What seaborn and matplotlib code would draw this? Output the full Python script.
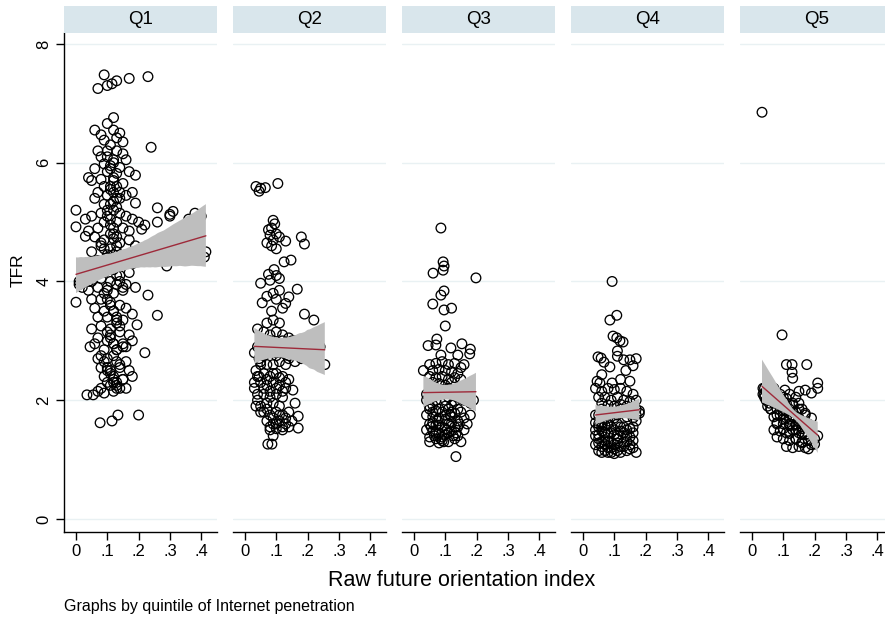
import matplotlib
matplotlib.use("Agg")
import matplotlib.pyplot as plt
import seaborn as sns
import pandas as pd

# ---------------- data ----------------
panels = ["Q1", "Q2", "Q3", "Q4", "Q5"]

q1_x = [0.07, 0.09, 0.10, 0.115, 0.13, 0.17, 0.23,
        0.12, 0.10, 0.06, 0.08, 0.12, 0.14, 0.13, 0.15, 0.24, 0.09, 0.11,
        0.07, 0.10, 0.13, 0.15, 0.08, 0.12, 0.16, 0.09, 0.11, 0.14, 0.06, 0.10, 0.13, 0.17, 0.19,
        0.04, 0.05, 0.08, 0.12, 0.15, 0.09, 0.11, 0.14, 0.07, 0.10, 0.13, 0.16, 0.18, 0.06, 0.12, 0.19,
        0.00, 0.03, 0.05, 0.08, 0.10, 0.12, 0.14, 0.16, 0.18, 0.20, 0.22, 0.26, 0.30, 0.31, 0.09, 0.11,
        0.13, 0.15, 0.00, 0.04, 0.07, 0.17, 0.21,
        0.03, 0.06, 0.09, 0.12, 0.14, 0.17, 0.19, 0.08, 0.11, 0.05, 0.13, 0.16, 0.20, 0.23, 0.10, 0.07,
        0.15, 0.18, 0.29, 0.415, 0.41, 0.12,
        0.06, 0.09, 0.12, 0.14, 0.17, 0.05, 0.08, 0.11, 0.13, 0.16, 0.19, 0.07, 0.10, 0.23, 0.15, 0.04,
        0.00, 0.05, 0.08, 0.11, 0.14, 0.06, 0.09, 0.12, 0.16, 0.10, 0.13, 0.07, 0.15, 0.26, 0.18, 0.195,
        0.05, 0.08, 0.11, 0.14, 0.17, 0.045, 0.07, 0.10, 0.12, 0.15, 0.09, 0.13, 0.16, 0.18, 0.22, 0.06,
        0.07, 0.10, 0.13, 0.16, 0.08, 0.11, 0.14, 0.17, 0.09, 0.12, 0.15, 0.18, 0.10, 0.13, 0.11, 0.14,
        0.08, 0.16, 0.035, 0.055, 0.07, 0.12, 0.09, 0.15,
        0.077, 0.115, 0.134, 0.20,
        0.12, 0.11, 0.12, 0.13, 0.11, 0.12, 0.13, 0.11, 0.12, 0.10, 0.12, 0.11, 0.13, 0.12,
        0.10, 0.11, 0.12, 0.13, 0.14, 0.09, 0.10, 0.11, 0.12, 0.13, 0.08, 0.09, 0.10, 0.11, 0.12,
        0.13, 0.14, 0.15, 0.09, 0.10, 0.11, 0.12, 0.13, 0.14, 0.10, 0.11, 0.12, 0.13, 0.08, 0.09,
        0.10, 0.11, 0.12, 0.13, 0.14, 0.15, 0.10, 0.11, 0.12, 0.13,
        0.26, 0.30, 0.34, 0.38, 0.28, 0.36, 0.40,
        0.01, 0.02, 0.03, 0.04, 0.02, 0.01]
q1_y = [7.25, 7.48, 7.30, 7.33, 7.38, 7.42, 7.45,
        6.76, 6.66, 6.55, 6.47, 6.55, 6.50, 6.42, 6.35, 6.26, 6.38, 6.30,
        6.20, 6.20, 6.20, 6.15, 6.10, 6.05, 6.05, 5.98, 5.95, 5.92, 5.90, 5.85, 5.82, 5.85, 5.79,
        5.75, 5.70, 5.72, 5.70, 5.65, 5.60, 5.55, 5.50, 5.50, 5.45, 5.40, 5.45, 5.50, 5.40, 5.35, 5.32,
        5.20, 5.05, 5.10, 5.15, 5.10, 5.20, 5.15, 5.10, 5.05, 5.00, 4.95, 5.24, 5.13, 5.18, 5.00, 4.95,
        5.00, 4.90, 4.92, 4.85, 4.90, 4.85, 4.88,
        4.76, 4.75, 4.70, 4.72, 4.65, 4.70, 4.60, 4.60, 4.55, 4.50, 4.50, 4.45, 4.50, 4.45, 4.40, 4.35,
        4.35, 4.30, 4.26, 4.50, 4.41, 4.30,
        4.20, 4.15, 4.20, 4.10, 4.15, 4.00, 4.05, 4.00, 3.95, 3.95, 3.90, 3.90, 3.85, 3.77, 3.85, 3.85,
        3.65, 3.70, 3.70, 3.65, 3.60, 3.55, 3.50, 3.50, 3.55, 3.40, 3.40, 3.40, 3.35, 3.43, 3.45, 3.27,
        3.20, 3.25, 3.20, 3.15, 3.10, 2.90, 3.05, 3.00, 2.95, 2.95, 2.85, 2.85, 2.90, 3.00, 2.80, 2.95,
        2.70, 2.70, 2.65, 2.65, 2.55, 2.50, 2.55, 2.50, 2.40, 2.40, 2.35, 2.40, 2.30, 2.30, 2.25, 2.20,
        2.20, 2.20, 2.09, 2.09, 2.15, 2.15, 2.12, 2.35,
        1.62, 1.65, 1.75, 1.75,
        6.00, 5.30, 4.80, 4.60, 4.20, 3.80, 3.30, 3.10, 2.75, 2.50, 2.30, 5.60, 5.25, 4.45,
        6.10, 5.90, 5.75, 5.60, 5.40, 5.30, 5.20, 5.05, 4.90, 4.75, 4.65, 4.55, 4.45, 4.35, 4.25,
        4.10, 4.00, 3.90, 3.80, 3.70, 3.60, 3.50, 3.35, 3.25, 3.15, 3.05, 2.95, 2.85, 2.75, 2.65,
        2.55, 2.45, 2.35, 2.25, 2.60, 2.90, 3.90, 4.80, 5.50, 2.20,
        5.00, 5.10, 4.90, 5.15, 4.70, 5.05, 5.10,
        4.00, 3.90, 4.10, 4.00, 4.20, 3.95]

q2_x = [0.035, 0.045, 0.05, 0.065, 0.105,
        0.09, 0.095, 0.085, 0.075, 0.08, 0.10, 0.09, 0.11, 0.07, 0.13, 0.18, 0.19, 0.085, 0.10,
        0.125, 0.147, 0.093, 0.08, 0.10, 0.075, 0.11,
        0.05, 0.167, 0.14, 0.13, 0.055, 0.09, 0.11, 0.10, 0.12, 0.19, 0.07, 0.085, 0.22,
        0.07, 0.09, 0.11, 0.04, 0.06, 0.08, 0.10, 0.12, 0.14, 0.05, 0.07, 0.09, 0.11, 0.13, 0.15,
        0.06, 0.08, 0.10, 0.12, 0.14, 0.035, 0.05, 0.07, 0.09, 0.11, 0.13, 0.255, 0.16, 0.04,
        0.06, 0.08, 0.10, 0.12, 0.14, 0.05, 0.07, 0.09, 0.11, 0.13, 0.153, 0.06, 0.08, 0.10, 0.12,
        0.16, 0.04, 0.07, 0.09, 0.11,
        0.06, 0.08, 0.10, 0.12, 0.14, 0.17, 0.07, 0.09, 0.11, 0.13, 0.08, 0.10, 0.12, 0.17, 0.09,
        0.073, 0.086,
        0.05, 0.07, 0.09, 0.11, 0.13, 0.15, 0.17, 0.19, 0.21, 0.23, 0.20, 0.22, 0.06, 0.08, 0.10,
        0.12, 0.14, 0.16, 0.18, 0.24,
        0.06, 0.08, 0.10, 0.12, 0.07, 0.09, 0.11, 0.13, 0.05, 0.07, 0.09, 0.11, 0.13, 0.15, 0.10,
        0.08, 0.12, 0.14,
        0.03, 0.04, 0.035, 0.045, 0.03, 0.04, 0.05, 0.05, 0.03, 0.045]
q2_y = [5.60, 5.52, 5.57, 5.58, 5.65,
        5.03, 4.97, 4.90, 4.87, 4.78, 4.80, 4.70, 4.75, 4.65, 4.68, 4.75, 4.63, 4.60, 4.55,
        4.33, 4.36, 4.20, 4.02, 4.10, 4.12, 4.05,
        3.97, 3.87, 3.74, 3.63, 3.64, 3.80, 3.85, 3.70, 3.55, 3.45, 3.75, 3.50, 3.35,
        3.30, 3.35, 3.30, 3.20, 3.15, 3.10, 3.15, 3.10, 3.05, 3.00, 2.95, 2.95, 2.90, 2.95, 3.00,
        2.85, 2.80, 2.75, 2.80, 2.70, 2.50, 2.65, 2.60, 2.60, 2.65, 2.60, 2.60, 2.65, 2.40,
        2.45, 2.40, 2.45, 2.40, 2.35, 2.30, 2.25, 2.30, 2.25, 2.20, 2.17, 2.10, 2.05, 2.10, 2.05,
        1.95, 2.00, 1.95, 1.95, 1.90,
        1.80, 1.75, 1.80, 1.75, 1.80, 1.73, 1.65, 1.60, 1.65, 1.60, 1.50, 1.52, 1.50, 1.53, 1.40,
        1.26, 1.26,
        2.90, 2.95, 2.85, 2.90, 2.85, 2.90, 2.85, 2.90, 2.80, 2.85, 3.05, 2.70, 2.75, 3.00, 2.80,
        3.00, 2.75, 3.00, 2.70, 2.90,
        2.20, 2.15, 2.20, 2.15, 2.35, 2.45, 2.38, 2.30, 1.90, 1.85, 1.70, 1.75, 1.70, 1.65, 1.60,
        1.55, 1.55, 1.55,
        2.30, 2.10, 1.90, 2.70, 2.80, 2.90, 2.60, 1.80, 2.20, 2.40]

q3_x = [0.086, 0.093, 0.096, 0.093, 0.061, 0.198, 0.096, 0.086, 0.06, 0.096, 0.12, 0.10,
        0.073, 0.07, 0.045, 0.118, 0.153, 0.14, 0.18, 0.178, 0.086,
        0.05, 0.07, 0.09, 0.11, 0.13, 0.15, 0.06, 0.08, 0.10, 0.12, 0.14, 0.05, 0.07, 0.09, 0.11,
        0.13, 0.06, 0.08, 0.10, 0.12, 0.15, 0.07, 0.09, 0.11, 0.03, 0.16,
        0.04, 0.14, 0.05,
        0.05, 0.07, 0.09, 0.11, 0.13, 0.15, 0.06, 0.08, 0.10, 0.12, 0.14, 0.05, 0.07, 0.09, 0.11,
        0.13, 0.06, 0.08, 0.10, 0.12, 0.14, 0.07, 0.09, 0.11, 0.05, 0.134,
        0.04, 0.06, 0.08, 0.10, 0.12, 0.14, 0.16, 0.18, 0.19, 0.17, 0.05, 0.07, 0.09, 0.11, 0.13,
        0.15,
        0.04, 0.06, 0.08, 0.10, 0.12, 0.14, 0.16, 0.04, 0.06, 0.08, 0.10, 0.12, 0.14, 0.16, 0.05,
        0.07, 0.09, 0.11, 0.13, 0.15, 0.08, 0.10, 0.12, 0.06, 0.17, 0.18,
        0.065, 0.085, 0.105, 0.125, 0.145, 0.075, 0.095, 0.115, 0.135, 0.055]
q3_y = [4.90, 4.33, 4.26, 4.19, 4.14, 4.06, 3.84, 3.77, 3.62, 3.52, 3.55, 3.25,
        3.03, 2.93, 2.92, 2.88, 2.95, 2.76, 2.86, 2.78, 2.76,
        2.60, 2.62, 2.65, 2.60, 2.62, 2.55, 2.50, 2.52, 2.50, 2.48, 2.45, 2.40, 2.38, 2.40, 2.35,
        2.38, 2.30, 2.28, 2.25, 2.30, 2.35, 2.20, 2.18, 2.20, 2.50, 2.60,
        2.00, 2.10, 1.90,
        1.85, 1.82, 1.80, 1.85, 1.78, 1.80, 1.72, 1.70, 1.68, 1.72, 1.65, 1.60, 1.58, 1.55, 1.60,
        1.55, 1.48, 1.45, 1.42, 1.48, 1.40, 1.35, 1.32, 1.30, 1.38, 1.05,
        2.10, 2.05, 2.10, 2.00, 2.10, 2.05, 2.00, 1.95, 2.00, 2.10, 2.15, 2.00, 2.15, 2.05, 1.98,
        2.12,
        1.75, 1.80, 1.85, 1.75, 1.80, 1.85, 1.70, 1.50, 1.62, 1.58, 1.52, 1.62, 1.55, 1.50, 1.30,
        1.45, 1.38, 1.45, 1.35, 1.30, 1.28, 1.90, 1.92, 1.92, 1.60, 1.75,
        1.40, 1.35, 1.50, 1.40, 1.60, 1.65, 1.30, 1.75, 1.45, 1.55]

q4_x = [0.093, 0.108, 0.086, 0.096, 0.108, 0.118, 0.128, 0.11, 0.11, 0.048, 0.058, 0.067,
        0.086, 0.13, 0.15, 0.17, 0.137, 0.16, 0.06, 0.045, 0.054, 0.093, 0.12, 0.15,
        0.04, 0.06, 0.08, 0.10, 0.12, 0.14, 0.16, 0.05, 0.07, 0.09, 0.11, 0.13, 0.15, 0.06, 0.08,
        0.10, 0.12, 0.14, 0.17,
        0.04, 0.17,
        0.05, 0.07, 0.09, 0.11, 0.13, 0.15, 0.06, 0.08, 0.10, 0.12, 0.14, 0.16, 0.05, 0.07, 0.09,
        0.11, 0.13, 0.15, 0.06, 0.08, 0.10, 0.12, 0.14, 0.17, 0.16, 0.04,
        0.05, 0.07, 0.09, 0.11, 0.13, 0.15, 0.17, 0.06, 0.08, 0.10, 0.12, 0.14, 0.16, 0.18,
        0.04, 0.06, 0.08, 0.10, 0.12, 0.14, 0.16, 0.05, 0.07, 0.09, 0.11, 0.13, 0.15, 0.05, 0.07,
        0.09, 0.11, 0.13, 0.15, 0.08, 0.10, 0.12, 0.14, 0.16, 0.06,
        0.04, 0.05, 0.06, 0.07, 0.05, 0.06, 0.04, 0.07, 0.08, 0.09, 0.10, 0.11, 0.17, 0.18, 0.16]
q4_y = [4.00, 3.43, 3.35, 3.08, 3.05, 3.00, 2.98, 2.83, 2.74, 2.73, 2.71, 2.64,
        2.56, 2.68, 2.68, 2.70, 2.50, 2.58, 2.43, 2.32, 2.29, 2.29, 2.35, 2.32,
        2.20, 2.15, 2.20, 2.18, 2.20, 2.15, 2.10, 2.05, 2.05, 2.00, 2.05, 2.00, 1.98, 1.95, 1.92,
        1.90, 1.93, 1.90, 2.00,
        1.75, 1.65,
        1.60, 1.58, 1.55, 1.60, 1.55, 1.52, 1.48, 1.45, 1.42, 1.48, 1.40, 1.45, 1.35, 1.32, 1.30,
        1.35, 1.30, 1.25, 1.22, 1.20, 1.18, 1.22, 1.15, 1.12, 1.20, 1.25,
        1.75, 1.70, 1.80, 1.75, 1.80, 1.78, 1.85, 1.85, 1.65, 1.70, 1.85, 1.72, 1.80, 1.82,
        1.50, 1.55, 1.60, 1.50, 1.55, 1.50, 1.55, 1.42, 1.38, 1.45, 1.40, 1.45, 1.38, 1.28, 1.25,
        1.20, 1.28, 1.22, 1.18, 1.12, 1.10, 1.12, 1.30, 1.32, 1.12,
        1.40, 1.15, 1.30, 1.45, 1.55, 1.62, 1.62, 1.15, 1.30, 1.12, 1.25, 1.15, 1.75, 1.78, 1.70]

q5_x = [0.032, 0.096, 0.11, 0.128, 0.175, 0.128, 0.13, 0.21, 0.21, 0.17, 0.105, 0.15, 0.19,
        0.06, 0.08, 0.10, 0.12, 0.14, 0.07, 0.09, 0.11, 0.13, 0.15, 0.06, 0.08, 0.10, 0.12, 0.14,
        0.16, 0.07, 0.09, 0.11, 0.13, 0.15, 0.17, 0.08, 0.10, 0.12, 0.14, 0.16, 0.18, 0.07, 0.09,
        0.11, 0.13, 0.15, 0.17, 0.19, 0.08, 0.10, 0.12, 0.14, 0.16, 0.18, 0.20, 0.11, 0.13, 0.15,
        0.17, 0.19,
        0.05, 0.07, 0.09, 0.11, 0.13, 0.15, 0.17, 0.19, 0.21, 0.06, 0.08, 0.10, 0.12, 0.14, 0.16,
        0.18, 0.20, 0.07, 0.09, 0.11, 0.13, 0.15, 0.17, 0.19, 0.08, 0.10, 0.12, 0.14, 0.16, 0.18,
        0.09, 0.11, 0.13, 0.15, 0.17, 0.10, 0.12, 0.14, 0.16, 0.18,
        0.04, 0.05, 0.045, 0.06, 0.055, 0.065, 0.04, 0.05,
        0.035, 0.04, 0.05, 0.035, 0.045, 0.06]
q5_y = [6.85, 3.10, 2.60, 2.60, 2.60, 2.47, 2.37, 2.29, 2.20, 2.17, 2.17, 2.15, 2.12,
        2.05, 2.10, 2.05, 2.10, 2.05, 1.95, 1.98, 1.95, 1.92, 1.95, 1.85, 1.85, 1.82, 1.85, 1.80,
        1.85, 1.72, 1.75, 1.70, 1.72, 1.68, 1.75, 1.62, 1.60, 1.60, 1.58, 1.55, 1.60, 1.50, 1.48,
        1.45, 1.50, 1.45, 1.42, 1.50, 1.38, 1.35, 1.32, 1.35, 1.30, 1.32, 1.35, 1.22, 1.20, 1.22,
        1.20, 1.25,
        2.08, 2.00, 1.92, 1.82, 1.75, 1.65, 1.58, 1.50, 1.40, 1.85, 1.75, 1.68, 1.57, 1.50, 1.42,
        1.33, 1.26, 2.20, 2.10, 2.03, 1.95, 1.85, 1.78, 1.70, 1.60, 1.52, 1.44, 1.35, 1.28, 1.18,
        1.96, 1.88, 1.80, 1.70, 1.63, 1.77, 1.68, 1.60, 1.52, 1.43,
        2.10, 2.15, 2.00, 2.05, 1.95, 2.10, 2.20, 1.90,
        2.10, 2.05, 2.00, 2.20, 2.15, 2.15]

xs = [q1_x, q2_x, q3_x, q4_x, q5_x]
ys = [q1_y, q2_y, q3_y, q4_y, q5_y]

x_ticks = [0, 0.1, 0.2, 0.3, 0.4]
x_ticklabels = ["0", ".1", ".2", ".3", ".4"]
y_ticks = [0, 2, 4, 6, 8]
y_ticklabels = ["0", "2", "4", "6", "8"]

df = pd.concat([pd.DataFrame({"panel": p, "fo": x, "tfr": y})
                for p, x, y in zip(panels, xs, ys)], ignore_index=True)

# ---------------- styling ----------------
sns.set_theme(style="white")
plt.rcParams["font.family"] = ["Liberation Sans", "DejaVu Sans"]
for k in ["text.color", "axes.labelcolor", "xtick.color", "ytick.color"]:
    plt.rcParams[k] = "black"

W, H = 885, 620
fig = plt.figure(figsize=(W / 100, H / 100), dpi=100)
fig.patch.set_facecolor("white")

strip_color = "#d9e6ec"
grid_color = "#e9f1f3"
line_color = "#9e2a3a"
band_color = "#bebebe"

for i, p in enumerate(panels):
    left = 64 + 169 * i
    ax = fig.add_axes([left / W, (H - 532) / H, 153 / W, (532 - 33) / H])
    sub = df[df["panel"] == p]
    for yv in y_ticks:
        ax.axhline(yv, color=grid_color, lw=1.0, zorder=0)
    sns.scatterplot(data=sub, x="fo", y="tfr", ax=ax, s=48, marker="o",
                    facecolor="none", edgecolor="black", linewidth=0.95, zorder=2)
    sns.regplot(data=sub, x="fo", y="tfr", ax=ax, scatter=False, ci=95, seed=0,
                truncate=True, color=line_color, line_kws={"lw": 1.0, "zorder": 4})
    for coll in ax.collections[1:]:
        coll.set_facecolor(band_color)
        coll.set_edgecolor("none")
        coll.set_alpha(1.0)
        coll.set_zorder(3)
    ax.set_xlim(-0.0383, 0.4505)
    ax.set_ylim(-0.22, 8.185)
    ax.set_xticks(x_ticks)
    ax.set_xticklabels(x_ticklabels)
    ax.set_xlabel("")
    ax.set_ylabel("")
    ax.tick_params(axis="x", direction="out", length=6, width=1, color="black",
                   labelsize=12, pad=3, bottom=True, labelcolor="black")
    for s in ["top", "right"]:
        ax.spines[s].set_visible(False)
    ax.spines["bottom"].set_color("black")
    ax.spines["bottom"].set_linewidth(1.0)
    if i == 0:
        ax.spines["left"].set_color("black")
        ax.spines["left"].set_linewidth(1.0)
        ax.set_yticks(y_ticks)
        ax.set_yticklabels(y_ticklabels, rotation=90, va="center")
        ax.tick_params(axis="y", direction="out", length=6, width=1, color="black",
                       labelsize=12, pad=3, left=True, labelcolor="black")
    else:
        ax.spines["left"].set_visible(False)
        ax.set_yticks([])
    ax.set_facecolor("white")

    sax = fig.add_axes([left / W, (H - 33) / H, 153 / W, 27 / H])
    sax.set_facecolor(strip_color)
    for s in sax.spines.values():
        s.set_visible(False)
    sax.set_xticks([])
    sax.set_yticks([])
    sax.text(0.5, 0.5, p, ha="center", va="center", fontsize=13.5, color="black",
             transform=sax.transAxes)

fig.text(18 / W, 1 - 270 / H, "TFR", rotation=90, ha="center", va="center", fontsize=12.5,
         color="black")
fig.text(462 / W, 1 - 580 / H, "Raw future orientation index", ha="center", va="center",
         fontsize=15.5, color="black")
fig.text(64 / W, 1 - 606 / H, "Graphs by quintile of Internet penetration", ha="left",
         va="center", fontsize=11.5, color="black")

fig.savefig("out.png", dpi=100, facecolor="white")
